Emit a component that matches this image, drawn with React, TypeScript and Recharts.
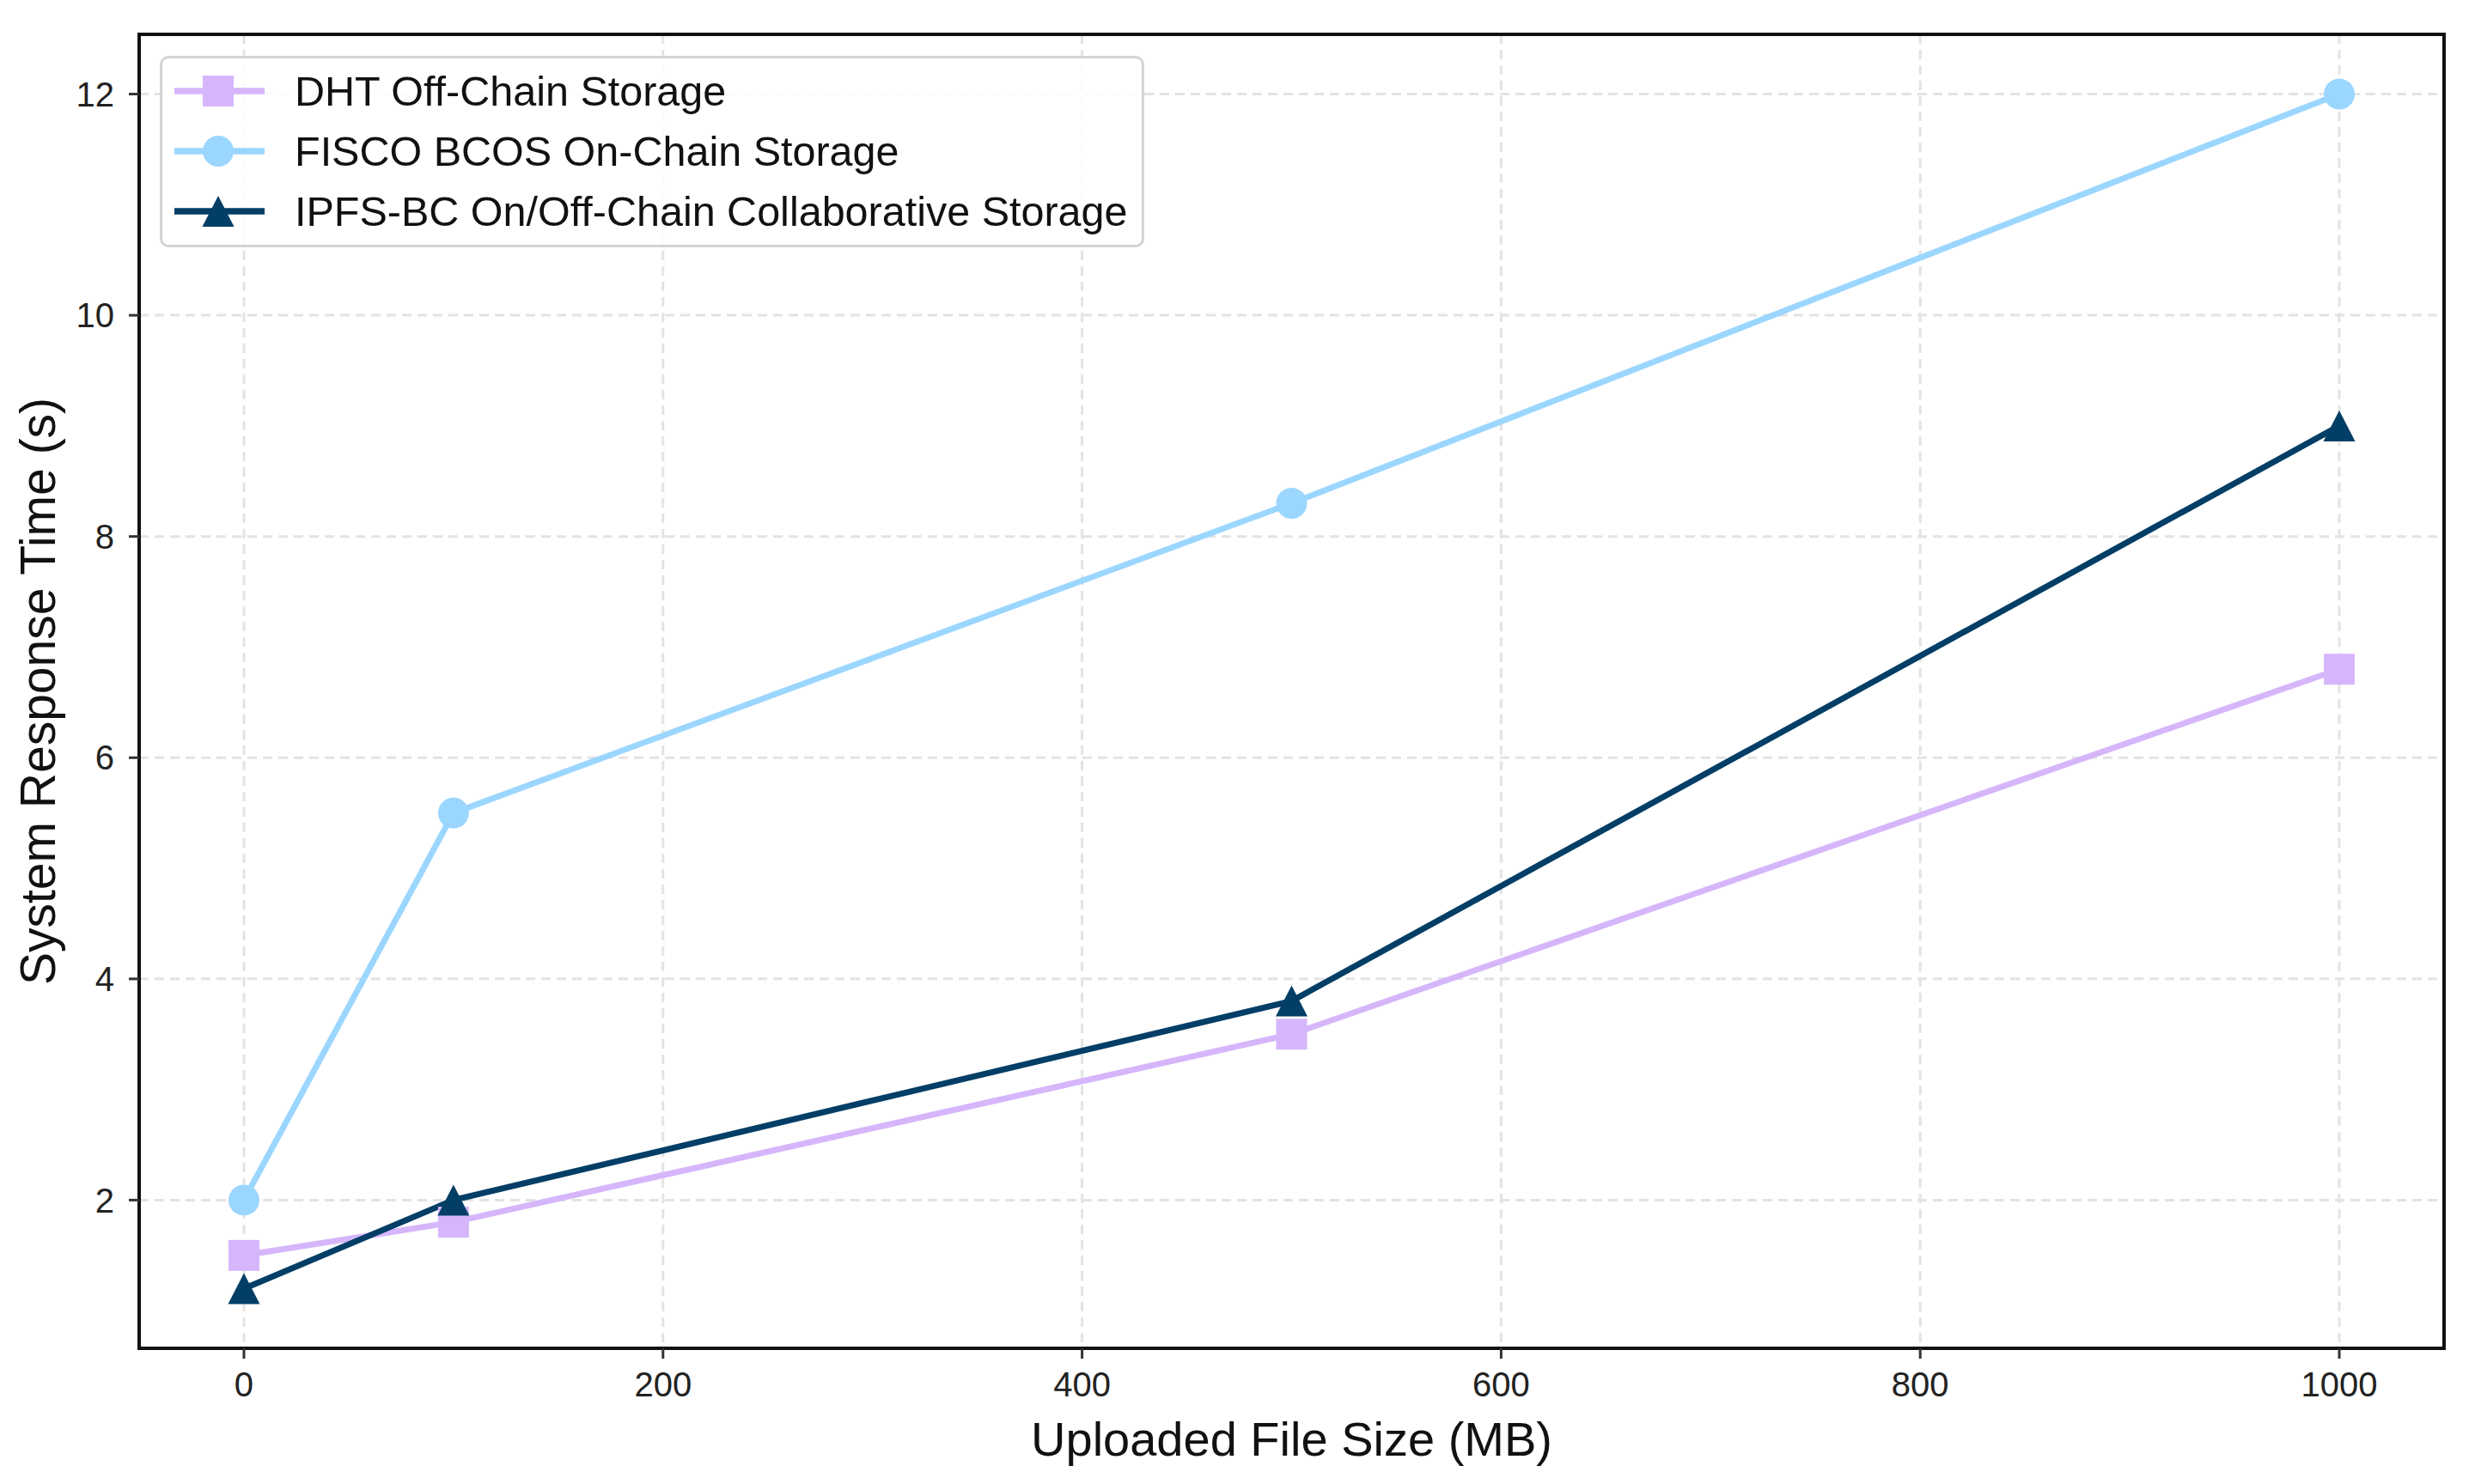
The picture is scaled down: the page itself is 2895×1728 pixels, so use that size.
import {
  LineChart,
  Line,
  XAxis,
  YAxis,
  CartesianGrid,
  ReferenceArea,
  Legend,
} from "recharts";

const fileSizes = [0, 100, 500, 1000];
const dhtTimes = [1.5, 1.8, 3.5, 6.8];
const fiscoTimes = [2.0, 5.5, 8.3, 12.0];
const ipfsTimes = [1.2, 2.0, 3.8, 9.0];

const xTicks = [0, 200, 400, 600, 800, 1000];
const yTicks = [2, 4, 6, 8, 10, 12];

const seriesNames = [
  "DHT Off-Chain Storage",
  "FISCO BCOS On-Chain Storage",
  "IPFS-BC On/Off-Chain Collaborative Storage",
];

const LAVENDER = "#d6b6fb";
const SKY = "#9bd6ff";
const NAVY = "#023e66";
const FONT = '"Liberation Sans", Arial, Helvetica, sans-serif';

const data = fileSizes.map((size, i) => ({
  size,
  dht: dhtTimes[i],
  fisco: fiscoTimes[i],
  ipfs: ipfsTimes[i],
}));

const M = 18; // marker half size

function Marker({ shape, cx, cy, color }: { shape: string; cx: number; cy: number; color: string }) {
  if (shape === "square") {
    return <rect x={cx - M} y={cy - M} width={M * 2} height={M * 2} fill={color} />;
  }
  if (shape === "circle") {
    return <circle cx={cx} cy={cy} r={M} fill={color} />;
  }
  return (
    <polygon
      points={`${cx},${cy - M} ${cx - M - 0.5},${cy + M} ${cx + M + 0.5},${cy + M}`}
      fill={color}
    />
  );
}

const dotFor = (shape: string, color: string) => (p: any) => (
  <Marker key={`${shape}-${p.index}`} shape={shape} cx={p.cx} cy={p.cy} color={color} />
);

const legendItems = [
  { name: seriesNames[0], color: LAVENDER, shape: "square" },
  { name: seriesNames[1], color: SKY, shape: "circle" },
  { name: seriesNames[2], color: NAVY, shape: "triangle" },
];

function LegendBox() {
  return (
    <div
      style={{
        width: 1146,
        height: 223,
        boxSizing: "border-box",
        border: "3px solid #d4d4d4",
        borderRadius: 10,
        background: "rgba(255,255,255,0.85)",
        paddingTop: 3,
        fontFamily: FONT,
        fontSize: 48.5,
        color: "#111",
      }}
    >
      {legendItems.map((it) => (
        <div
          key={it.name}
          style={{ height: 70, display: "flex", alignItems: "center", position: "relative" }}
        >
          <svg width={105} height={70} style={{ position: "absolute", left: 14, top: 0 }}>
            <line x1={0} y1={35} x2={105} y2={35} stroke={it.color} strokeWidth={7.5} />
            <Marker shape={it.shape} cx={51} cy={35} color={it.color} />
          </svg>
          <span style={{ position: "absolute", left: 154, whiteSpace: "nowrap", lineHeight: "70px" }}>
            {it.name}
          </span>
        </div>
      ))}
    </div>
  );
}

const tickStyle = { fontSize: 40, fill: "#222", fontFamily: FONT };

export default function App() {
  return (
    <div style={{ fontFamily: FONT, background: "#fff" }}>
      <style>{"body{margin:0;background:#fff}"}</style>
      <LineChart
        width={2895}
        height={1728}
        data={data}
        margin={{ top: 40, right: 50, left: 0, bottom: 0 }}
      >
        <CartesianGrid stroke="#e3e3e3" strokeWidth={3} strokeDasharray="11 7" />
        <XAxis
          dataKey="size"
          type="number"
          domain={[-50, 1050]}
          ticks={xTicks}
          height={158}
          axisLine={false}
          tickLine={{ stroke: "#333", strokeWidth: 3 }}
          tickSize={12}
          tickMargin={16}
          tick={tickStyle}
          label={{
            value: "Uploaded File Size (MB)",
            position: "insideBottom",
            offset: 33,
            style: { fontSize: 56, fill: "#111", fontFamily: FONT },
          }}
        />
        <YAxis
          type="number"
          domain={[0.66, 12.54]}
          ticks={yTicks}
          width={162}
          axisLine={false}
          tickLine={{ stroke: "#333", strokeWidth: 3 }}
          tickSize={12}
          tickMargin={17}
          tick={tickStyle}
          label={{
            value: "System Response Time (s)",
            angle: -90,
            position: "insideLeft",
            offset: 44,
            style: { fontSize: 57, fill: "#111", fontFamily: FONT, textAnchor: "middle" },
          }}
        />
        <ReferenceArea
          x1={-50}
          x2={1050}
          y1={0.66}
          y2={12.54}
          fill="none"
          fillOpacity={0}
          stroke="#111"
          strokeWidth={4}
          strokeOpacity={1}
        />
        <Line
          type="linear"
          dataKey="dht"
          name={seriesNames[0]}
          stroke={LAVENDER}
          strokeWidth={7}
          dot={dotFor("square", LAVENDER)}
          activeDot={false}
          isAnimationActive={false}
        />
        <Line
          type="linear"
          dataKey="fisco"
          name={seriesNames[1]}
          stroke={SKY}
          strokeWidth={7}
          dot={dotFor("circle", SKY)}
          activeDot={false}
          isAnimationActive={false}
        />
        <Line
          type="linear"
          dataKey="ipfs"
          name={seriesNames[2]}
          stroke={NAVY}
          strokeWidth={7}
          dot={dotFor("triangle", NAVY)}
          activeDot={false}
          isAnimationActive={false}
        />
        <Legend
          layout="vertical"
          align="center"
          verticalAlign="middle"
          content={() => <LegendBox />}
          wrapperStyle={{ left: 186, top: 65, width: "auto", height: "auto" }}
        />
      </LineChart>
    </div>
  );
}
